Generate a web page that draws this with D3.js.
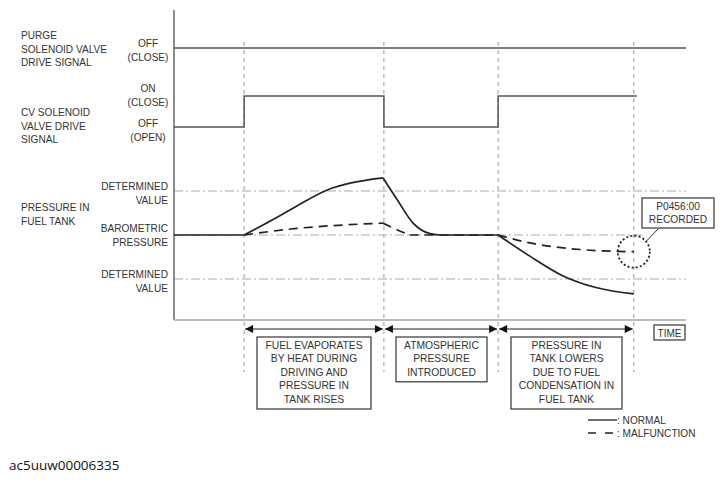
<!DOCTYPE html>
<html>
<head>
<meta charset="utf-8">
<script src="https://cdn.jsdelivr.net/npm/d3@7"></script>
<style>
  html, body { margin: 0; padding: 0; background: #fff; }
  svg { display: block; }
  text { font-family: "Liberation Sans", Arial, Helvetica, sans-serif; fill: #333; }
</style>
</head>
<body>
<svg id="chart" width="724" height="480"></svg>
<script>
// ---------------- DATA ----------------
// time events (arbitrary time units 0..100)
const phaseTimes = [13.7, 41.0, 63.3, 89.8];
const phaseLabels = [
  ["FUEL EVAPORATES", "BY HEAT DURING", "DRIVING AND", "PRESSURE IN", "TANK RISES"],
  ["ATMOSPHERIC", "PRESSURE", "INTRODUCED"],
  ["PRESSURE IN", "TANK LOWERS", "DUE TO FUEL", "CONDENSATION IN", "FUEL TANK"]
];
// purge solenoid valve signal (0 = OFF)
const purgeSignal = [[0, 0], [100, 0]];
// CV solenoid valve signal (0 = OFF/OPEN, 1 = ON/CLOSE)
const cvSignal = [[0, 0], [13.7, 1], [41.0, 0], [63.3, 1], [90.4, 1]];
// pressure in fuel tank (0 = barometric, ±1 = determined value)
const normalSegments = [
  [[0, 0], [13.7, 0]],
  [[13.7, 0], [19, 0.33], [24, 0.66], [30.5, 1.05], [34.4, 1.18], [40.8, 1.30]],
  [[40.8, 1.30], [43.6, 0.80], [46.7, 0.27], [50, 0.03], [52, 0]],
  [[52, 0], [63.3, 0]],
  [[63.3, 0], [69.5, -0.48], [76, -0.93], [82.6, -1.2], [89.8, -1.34]]
];
const malfunctionSegments = [
  [[13.7, 0], [24, 0.15], [32, 0.22], [40.8, 0.27]],
  [[40.8, 0.27], [43.2, 0.14], [46, 0.0]],
  [[46, 0], [63.3, 0]],
  [[63.3, 0], [69.5, -0.18], [79.3, -0.33], [89.8, -0.38]]
];
const refLevels = [1, 0, -1];
const refEnds = [100, 91.5, 100];
const dtcText = ["P0456:00", "RECORDED"];
const legendItems = [": NORMAL", ": MALFUNCTION"];
const caption = "ac5uuw00006335";

// ---------------- SCALES ----------------
const svg = d3.select("#chart");
const x = d3.scaleLinear().domain([0, 100]).range([174, 686]);
const yPurge = d3.scaleLinear().domain([0, 1]).range([48, 17]);
const yCv = d3.scaleLinear().domain([0, 1]).range([127, 96]);
const yP = d3.scaleLinear().domain([-1, 1]).range([279, 191]);

// defs: arrow markers
const defs = svg.append("defs");
defs.append("marker").attr("id", "arrEnd").attr("viewBox", "0 0 10 10")
  .attr("refX", 10).attr("refY", 5).attr("markerWidth", 9).attr("markerHeight", 8)
  .attr("markerUnits", "userSpaceOnUse").attr("orient", "auto")
  .append("path").attr("d", "M0,0 L10,5 L0,10 Z").attr("fill", "#111");
defs.append("marker").attr("id", "arrStart").attr("viewBox", "0 0 10 10")
  .attr("refX", 0).attr("refY", 5).attr("markerWidth", 9).attr("markerHeight", 8)
  .attr("markerUnits", "userSpaceOnUse").attr("orient", "auto")
  .append("path").attr("d", "M10,0 L0,5 L10,10 Z").attr("fill", "#111");

// ---------------- GRID / REFERENCE ----------------
svg.selectAll(".vline").data(phaseTimes).join("line")
  .attr("x1", d => x(d)).attr("x2", d => x(d))
  .attr("y1", 42).attr("y2", 372)
  .attr("stroke", "#999").attr("stroke-width", 1).attr("stroke-dasharray", "4,4");

svg.selectAll(".ref").data(refLevels).join("line")
  .attr("x1", x(0)).attr("x2", (d, i) => x(refEnds[i]))
  .attr("y1", d => yP(d)).attr("y2", d => yP(d))
  .attr("stroke", "#aaa").attr("stroke-width", 1).attr("stroke-dasharray", "9,3,2,3");

svg.append("line").attr("x1", 174).attr("x2", 174).attr("y1", 10).attr("y2", 320)
  .attr("stroke", "#666").attr("stroke-width", 1.5);
svg.append("line").attr("x1", 174).attr("x2", x(100)).attr("y1", 320).attr("y2", 320)
  .attr("stroke", "#bbb").attr("stroke-width", 2);

// ---------------- SIGNALS ----------------
const purgeLine = d3.line().x(d => x(d[0])).y(d => yPurge(d[1])).curve(d3.curveStepAfter);
svg.append("path").attr("d", purgeLine(purgeSignal)).attr("fill", "none")
  .attr("stroke", "#555").attr("stroke-width", 1.5);

const cvLine = d3.line().x(d => x(d[0])).y(d => yCv(d[1])).curve(d3.curveStepAfter);
svg.append("path").attr("d", cvLine(cvSignal)).attr("fill", "none")
  .attr("stroke", "#555").attr("stroke-width", 1.5);

// ---------------- PRESSURE CURVES ----------------
const pLine = d3.line().x(d => x(d[0])).y(d => yP(d[1])).curve(d3.curveMonotoneX);
svg.selectAll(".mal").data(malfunctionSegments).join("path")
  .attr("d", pLine).attr("fill", "none").attr("stroke", "#222")
  .attr("stroke-width", 1.7).attr("stroke-dasharray", "9,6");
svg.selectAll(".norm").data(normalSegments).join("path")
  .attr("d", pLine).attr("fill", "none").attr("stroke", "#222")
  .attr("stroke-width", 1.7);

const endPt = malfunctionSegments[3][malfunctionSegments[3].length - 1];
svg.append("circle").attr("cx", x(endPt[0])).attr("cy", yP(endPt[1])).attr("r", 16)
  .attr("fill", "none").attr("stroke", "#222").attr("stroke-width", 1.8)
  .attr("stroke-dasharray", "2,2.2");
svg.append("line").attr("x1", x(endPt[0]) + 12).attr("y1", yP(endPt[1]) - 10)
  .attr("x2", 658).attr("y2", 229).attr("stroke", "#333").attr("stroke-width", 1);
svg.append("rect").attr("x", 642).attr("y", 198).attr("width", 72).attr("height", 30)
  .attr("fill", "#fff").attr("stroke", "#444").attr("stroke-width", 1.3);
svg.selectAll(".dtc").data(dtcText).join("text")
  .attr("x", 678).attr("y", (d, i) => 210 + i * 13).attr("text-anchor", "middle")
  .attr("font-size", 10.2).text(d => d);

// ---------------- PHASE ARROWS & BOXES ----------------
const bounds = [[phaseTimes[0], phaseTimes[1]], [phaseTimes[1], phaseTimes[2]], [phaseTimes[2], phaseTimes[3]]];
svg.selectAll(".arrow").data(bounds).join("line")
  .attr("x1", d => x(d[0]) + 1).attr("x2", d => x(d[1]) - 1)
  .attr("y1", 329).attr("y2", 329)
  .attr("stroke", "#222").attr("stroke-width", 1)
  .attr("marker-start", "url(#arrStart)").attr("marker-end", "url(#arrEnd)");

const boxGeom = [
  { cx: 314, w: 114 },
  { cx: 441.5, w: 91 },
  { cx: 566.5, w: 111 }
];
phaseLabels.forEach((lines, i) => {
  const g = svg.append("g");
  const h = lines.length * 13.6 + 4;
  g.append("rect").attr("x", boxGeom[i].cx - boxGeom[i].w / 2).attr("y", 337)
    .attr("width", boxGeom[i].w).attr("height", h)
    .attr("fill", "#fff").attr("stroke", "#444").attr("stroke-width", 1.3);
  g.selectAll("text").data(lines).join("text")
    .attr("x", boxGeom[i].cx).attr("y", (d, j) => 348.5 + j * 13.6)
    .attr("text-anchor", "middle").attr("font-size", 10.3).text(d => d);
});

svg.append("rect").attr("x", 654).attr("y", 325).attr("width", 31).attr("height", 15)
  .attr("fill", "#fff").attr("stroke", "#444").attr("stroke-width", 1.3);
svg.append("text").attr("x", 669.5).attr("y", 336.5).attr("text-anchor", "middle")
  .attr("font-size", 10).text("TIME");

// ---------------- LEFT LABELS ----------------
function block(lines, xPos, yStart, anchor, step = 13.6) {
  svg.append("g").selectAll("text").data(lines).join("text")
    .attr("x", xPos).attr("y", (d, i) => yStart + i * step)
    .attr("text-anchor", anchor).attr("font-size", 10.1).text(d => d);
}
block(["PURGE", "SOLENOID VALVE", "DRIVE SIGNAL"], 21, 39, "start");
block(["OFF", "(CLOSE)"], 148, 47, "middle");
block(["ON", "(CLOSE)"], 148, 92, "middle");
block(["CV SOLENOID", "VALVE DRIVE", "SIGNAL"], 21, 116, "start");
block(["OFF", "(OPEN)"], 148, 127, "middle");
block(["DETERMINED", "VALUE"], 168, 190, "end");
block(["PRESSURE IN", "FUEL TANK"], 21, 211, "start");
block(["BAROMETRIC", "PRESSURE"], 168, 232, "end");
block(["DETERMINED", "VALUE"], 168, 278, "end");

// ---------------- LEGEND ----------------
svg.append("line").attr("x1", 588).attr("x2", 617).attr("y1", 420).attr("y2", 420)
  .attr("stroke", "#222").attr("stroke-width", 1.3);
svg.append("line").attr("x1", 588).attr("x2", 618).attr("y1", 433).attr("y2", 433)
  .attr("stroke", "#222").attr("stroke-width", 1.3).attr("stroke-dasharray", "8,9");
svg.selectAll(".leg").data(legendItems).join("text")
  .attr("x", 617).attr("y", (d, i) => 423.5 + i * 13).attr("font-size", 10.1).text(d => d);

// ---------------- CAPTION ----------------
svg.append("text").attr("x", 9).attr("y", 470).attr("font-size", 13.5)
  .style("font-family", "'Open Sans', 'Noto Sans', sans-serif").style("fill", "#111")
  .text(caption);
</script>
</body>
</html>
